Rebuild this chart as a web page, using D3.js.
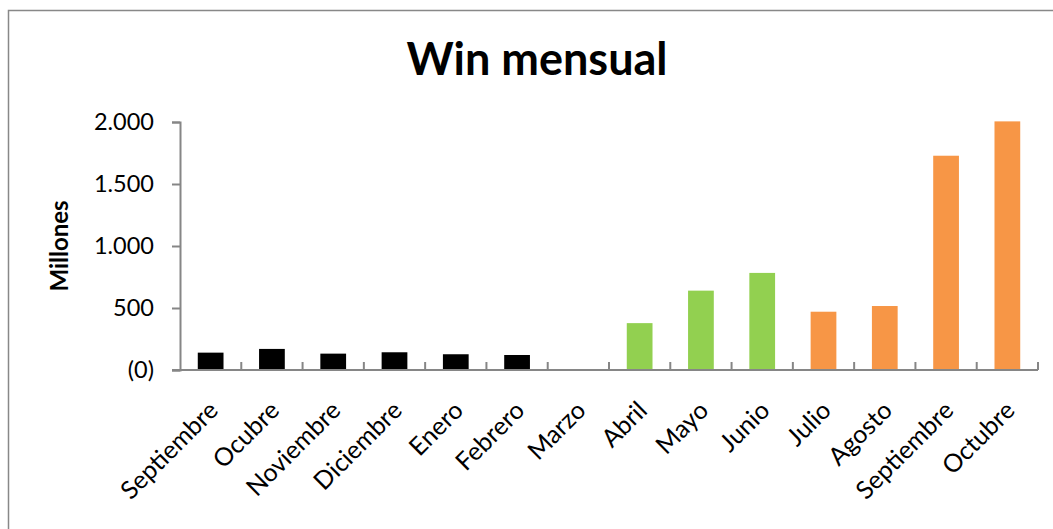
<!DOCTYPE html>
<html>
<head>
<meta charset="utf-8">
<script src="https://cdn.jsdelivr.net/npm/d3@7"></script>
<style>
  body { margin: 0; background: #fff; }
  text { font-family: Lato, "Open Sans", sans-serif; }
</style>
</head>
<body>
<div id="chart"></div>
<script>
// monthly win, millions
const months = ['Septiembre', 'Ocubre', 'Noviembre', 'Diciembre', 'Enero', 'Febrero', 'Marzo',
    'Abril', 'Mayo', 'Junio', 'Julio', 'Agosto', 'Septiembre', 'Octubre'];
const winValues = [140, 170, 132, 143, 127, 121, 0, 378, 640, 783, 470, 516, 1728, 2005];
const groups = ['old', 'old', 'old', 'old', 'old', 'old', 'old',
    'mid', 'mid', 'mid', 'new', 'new', 'new', 'new'];
const yTicks = [0, 500, 1000, 1500, 2000];
const yTickLabels = ['(0)', '500', '1.000', '1.500', '2.000'];

const groupColor = { old: '#000000', mid: '#92D050', new: '#F79646' };

const width = 1053;
const height = 529;
const margin = { left: 180, right: 15, top: 122, bottom: 159 };

const svg = d3.select('#chart')
    .append('svg')
    .attr('width', width)
    .attr('height', height);

// chart frame
svg.append('rect')
    .attr('x', 8.5).attr('y', 10.5)
    .attr('width', 1060).attr('height', 540)
    .attr('fill', 'none')
    .attr('stroke', '#888')
    .attr('stroke-width', 1.5);

svg.append('text')
    .attr('x', 537).attr('y', 75)
    .attr('text-anchor', 'middle')
    .attr('font-size', 45)
    .attr('font-weight', 'bold')
    .text('Win mensual');

const x = d3.scaleBand()
    .domain(d3.range(months.length))
    .range([margin.left, width - margin.right])
    .paddingInner(0.58)
    .paddingOuter(0.29);

const y = d3.scaleLinear()
    .domain([0, 2000])
    .range([height - margin.bottom, margin.top]);

// bars
svg.selectAll('.bar')
    .data(winValues)
    .enter()
    .append('rect')
    .attr('class', 'bar')
    .attr('x', (d, i) => x(i))
    .attr('y', d => y(d))
    .attr('width', x.bandwidth())
    .attr('height', d => y(0) - y(d))
    .attr('fill', (d, i) => groupColor[groups[i]]);

// y axis
const yAxis = svg.append('g')
    .attr('transform', `translate(${margin.left},0)`)
    .call(d3.axisLeft(y)
        .tickValues(yTicks)
        .tickFormat((d, i) => yTickLabels[i])
        .tickSize(8)
        .tickPadding(18));
yAxis.select('.domain').attr('stroke', '#868686').attr('stroke-width', 2);
yAxis.selectAll('.tick line').attr('stroke', '#868686').attr('stroke-width', 2);
yAxis.selectAll('.tick text')
    .attr('font-size', 23.5)
    .attr('fill', '#000')
    .style('font-family', 'Lato, sans-serif');

// x axis: baseline with ticks between categories
const step = x.step();
const xAxisG = svg.append('g');
xAxisG.append('line')
    .attr('x1', margin.left - 8).attr('x2', width - margin.right)
    .attr('y1', y(0)).attr('y2', y(0))
    .attr('stroke', '#868686').attr('stroke-width', 2);
xAxisG.selectAll('.xtick')
    .data(d3.range(1, months.length + 1))
    .enter()
    .append('line')
    .attr('x1', i => margin.left + i * step)
    .attr('x2', i => margin.left + i * step)
    .attr('y1', y(0)).attr('y2', y(0) - 8)
    .attr('stroke', '#868686').attr('stroke-width', 2);

xAxisG.selectAll('.xlabel')
    .data(months)
    .enter()
    .append('text')
    .attr('text-anchor', 'end')
    .attr('font-size', 25)
    .attr('transform', (d, i) => {
        const cx = x(i) + x.bandwidth() / 2 + 9;
        return `translate(${cx},${y(0) + 42}) rotate(-45)`;
    })
    .text(d => d);

svg.append('text')
    .attr('transform', `translate(68,${(y(0) + y(2000)) / 2}) rotate(-90)`)
    .attr('text-anchor', 'middle')
    .attr('font-size', 24)
    .attr('font-weight', 'bold')
    .text('Millones');
</script>
</body>
</html>
